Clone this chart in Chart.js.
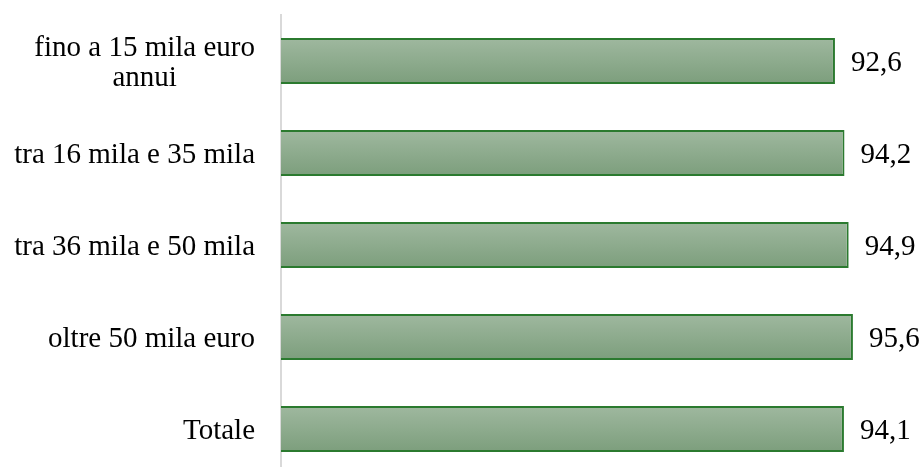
<!DOCTYPE html>
<html>
<head>
<meta charset="utf-8">
<script src="https://cdn.jsdelivr.net/npm/chart.js@4"></script>
<style>
  html, body { margin: 0; padding: 0; background: #fff; overflow: hidden; }
  #wrap { position: relative; width: 921px; height: 477px; }
</style>
</head>
<body>
<div id="wrap"><canvas id="chart"></canvas></div>
<script>
const categories = [
  ["fino a 15 mila euro", "annui"],
  "tra 16 mila e 35 mila",
  "tra 36 mila e 50 mila",
  "oltre 50 mila euro",
  "Totale"
];
const values = [92.6, 94.2, 94.9, 95.6, 94.1];

const FONT = '"Liberation Serif", "Times New Roman", serif';
const fmt = v => v.toFixed(1).replace(".", ",");

// vertical gradient per bar, built from the category scale
function barFill(ctx) {
  const chart = ctx.chart;
  const y = chart.scales.y;
  if (!chart.chartArea || !y) return "#8fab8f";
  const c = y.getPixelForValue(ctx.dataIndex);
  const half = (y.height / categories.length) * 0.25;
  const g = chart.ctx.createLinearGradient(0, c - half, 0, c + half);
  g.addColorStop(0, "#9fb89f");
  g.addColorStop(1, "#7c9e7c");
  return g;
}

// category labels on the left, multi-line labels centred on each other
const catLabels = {
  id: "catLabels",
  afterDraw(chart) {
    const { ctx, scales: { y } } = chart;
    ctx.save();
    ctx.font = `29px ${FONT}`;
    ctx.fillStyle = "#000";
    ctx.textBaseline = "middle";
    ctx.textAlign = "center";
    const right = 255, lh = 30;
    categories.forEach((lab, i) => {
      const lines = Array.isArray(lab) ? lab : [lab];
      const w = Math.max(...lines.map(l => ctx.measureText(l).width));
      const cy = y.getPixelForTick(i) + 2;
      const top = cy - (lines.length - 1) * lh / 2;
      lines.forEach((l, k) => ctx.fillText(l, right - w / 2, top + k * lh));
    });
    ctx.restore();
  }
};

// value at the end of each bar
const valueLabels = {
  id: "valueLabels",
  afterDatasetsDraw(chart) {
    const { ctx } = chart;
    const meta = chart.getDatasetMeta(0);
    ctx.save();
    ctx.font = `29px ${FONT}`;
    ctx.fillStyle = "#000";
    ctx.textBaseline = "middle";
    ctx.textAlign = "left";
    meta.data.forEach((bar, i) => {
      ctx.fillText(fmt(values[i]), bar.x + 16, bar.y + 2);
    });
    ctx.restore();
  }
};

new Chart(document.getElementById("chart"), {
  type: "bar",
  data: {
    labels: categories,
    datasets: [{
      data: values,
      backgroundColor: barFill,
      borderColor: "#2b7a2f",
      borderWidth: 2,
      barPercentage: 0.5,
      categoryPercentage: 1
    }]
  },
  options: {
    indexAxis: "y",
    responsive: true,
    maintainAspectRatio: false,
    animation: false,
    layout: { padding: { top: 15, right: 43, bottom: 2, left: 0 } },
    plugins: { legend: { display: false }, tooltip: { enabled: false } },
    scales: {
      x: { display: false, min: 0, max: 99.8 },
      y: {
        grid: { display: false, drawTicks: false },
        border: { display: true, color: "#d9d9d9", width: 2 },
        ticks: { display: false },
        afterFit: s => { s.width = 281; }
      }
    }
  },
  plugins: [catLabels, valueLabels]
});
</script>
</body>
</html>
